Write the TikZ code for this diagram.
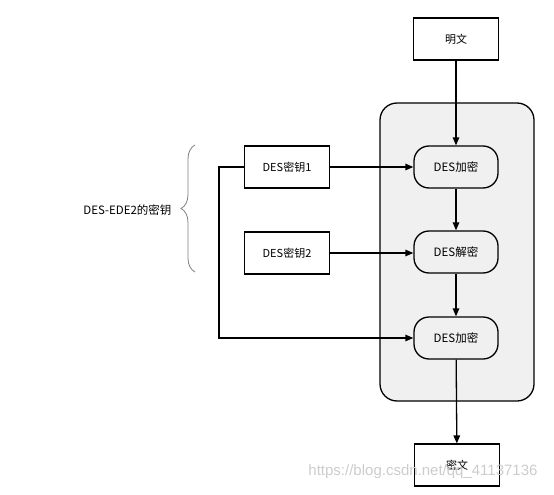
\documentclass[tikz,border=0pt]{standalone}
\usepackage{fontspec}
\setmainfont{Noto Sans CJK SC}
\newfontfamily\markfont{Liberation Sans}
\usetikzlibrary{arrows.meta,positioning,decorations.pathreplacing}

\begin{document}
\begin{tikzpicture}[x=1pt,y=-1pt,
    box/.style={draw, line width=1.1pt, minimum width=85pt, minimum height=42pt, font=\fontsize{11}{13}\selectfont},
    stage/.style={draw, rounded corners=15pt, line width=1.3pt, minimum width=84pt, minimum height=42pt, font=\fontsize{11.5}{13}\selectfont},
    arr/.style={-{Triangle[length=8pt,width=6.5pt]}, line width=1.3pt}]
  \useasboundingbox (0,0) rectangle (554,495);
  % shaded group
  \node[draw, fill=gray!12, rounded corners=17pt, line width=1.3pt, minimum width=154pt, minimum height=298pt] (group) at (457,252) {};
  \node[box] (plain) at (456,39) {明文};
  \node[stage] (enc1) at (456,167) {DES加密};
  \node[stage] (dec) at (456,252) {DES解密};
  \node[stage] (enc2) at (456,338) {DES加密};
  \node[box] (cipher) at (457,465) {密文};
  \node[box] (key1) at (287,167) {DES密钥1};
  \node[box] (key2) at (287,253) {DES密钥2};
  \draw[arr] (plain) -- (enc1);
  \draw[arr] (enc1) -- (dec);
  \draw[arr] (dec) -- (enc2);
  \draw[arr] (enc2) -- (cipher);
  \draw[arr] (key1) -- (enc1);
  \draw[arr] (key2.east) -- (key2.east -| enc1.west);
  \draw[arr] (key1.west) -- ++(-25,0) |- (enc2.west);
  % key brace
  \draw[gray, line width=0.8pt, decorate, decoration={brace, amplitude=14pt}] (195,272) -- (195,145);
  \node[anchor=east, font=\fontsize{11.5}{13}\selectfont] (keylabel) at (175,210) {DES-EDE2的密钥};
  \node[gray!40, font=\markfont\fontsize{15}{17}\selectfont] (mark) at (423,472) {https://blog.csdn.net/qq\_41137136};
\end{tikzpicture}
\end{document}
